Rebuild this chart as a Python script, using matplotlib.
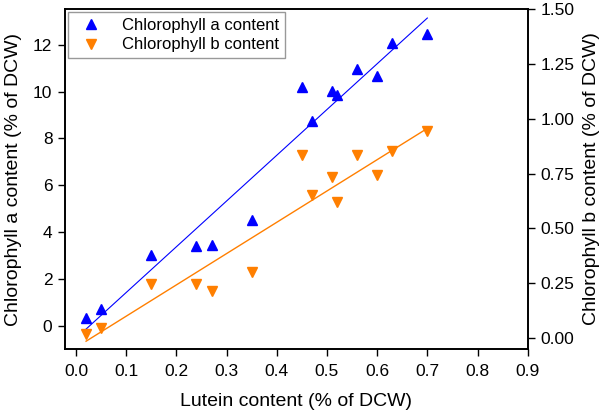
import numpy as np
import matplotlib.pyplot as plt

plt.rcParams['font.family'] = ['Liberation Sans', 'DejaVu Sans']

# lutein content (% of DCW)
lutein = [0.02, 0.05, 0.15, 0.24, 0.27, 0.35, 0.45, 0.47, 0.51, 0.52, 0.56, 0.60, 0.63, 0.70]
# chlorophyll a (left axis) and b (right axis)
chl_a = [0.33, 0.71, 3.03, 3.41, 3.44, 4.52, 10.18, 8.76, 10.04, 9.85, 10.96, 10.67, 12.06, 12.44]
chl_b = [0.018, 0.045, 0.245, 0.245, 0.215, 0.303, 0.833, 0.651, 0.735, 0.62, 0.833, 0.742, 0.853, 0.944]

blue = '#0000ff'
orange = '#ff7f00'

fig = plt.figure(figsize=(6, 4.11), dpi=100)
ax = fig.add_axes([0.1083, 0.1509, 0.7712, 0.8271])
ax2 = ax.twinx()

x = np.array(lutein)
xs = np.array([x.min(), x.max()])

# linear fits
pa = np.polyfit(x, chl_a, 1)
pb = np.polyfit(x, chl_b, 1)

la, = ax.plot(x, chl_a, '^', color=blue, markersize=7, linestyle='none', label='Chlorophyll a content')
ax.plot(xs, np.polyval(pa, xs), color=blue, lw=0.8)
lb, = ax2.plot(x, chl_b, 'v', color=orange, markersize=7, linestyle='none', label='Chlorophyll b content')
ax2.plot(xs, np.polyval(pb, xs), color=orange, lw=1.0)

ax.set_xlim(-0.022, 0.9)
ax.set_ylim(-0.98, 13.52)
ax2.set_ylim(-0.049, 1.5)

xt = np.arange(0, 0.91, 0.1)
ax.set_xticks(xt)
ax.set_xticklabels([f'{v:.1f}' for v in xt])
ax.set_yticks([0, 2, 4, 6, 8, 10, 12])
yt2 = np.arange(0, 1.51, 0.25)
ax2.set_yticks(yt2)
ax2.set_yticklabels([f'{v:.2f}' for v in yt2])

for a in (ax, ax2):
    a.tick_params(direction='out', length=5, width=1, labelsize=12.5, pad=4)
    for s in a.spines.values():
        s.set_linewidth(1.2)
ax.tick_params(axis='x', pad=6)

ax.set_xlabel('Lutein content (% of DCW)', fontsize=14, labelpad=10)
ax.set_ylabel('Chlorophyll a content (% of DCW)', fontsize=14, labelpad=8)
ax2.set_ylabel('Chlorophyll b content (% of DCW)', fontsize=14, labelpad=6)

leg = ax.legend(handles=[la, lb], loc='upper left', fontsize=12, frameon=True,
                fancybox=False, edgecolor='#808080', borderaxespad=0.2,
                handletextpad=0.9, borderpad=0.35, labelspacing=0.25)
leg.get_frame().set_linewidth(1.0)

fig.savefig('out.png', dpi=100)
